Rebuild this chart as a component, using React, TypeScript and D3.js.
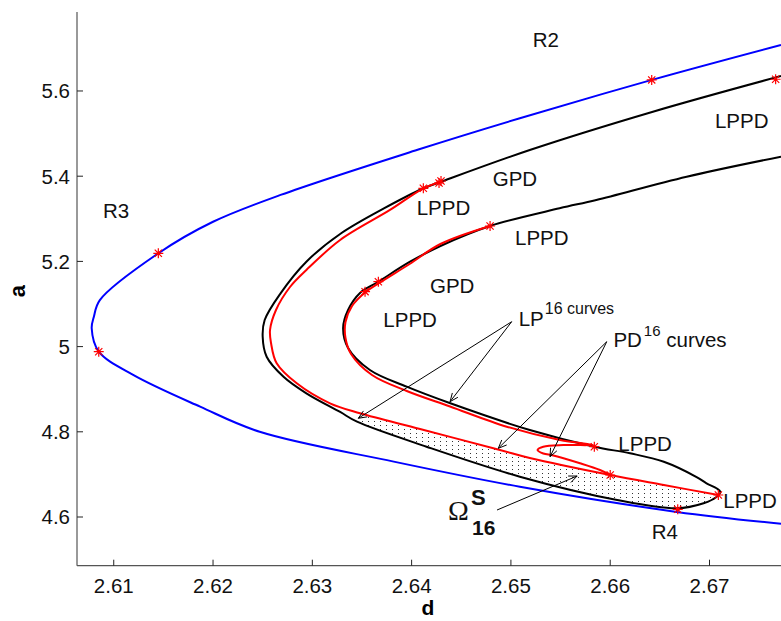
import React from 'react'
import * as d3 from 'd3'

type Pt = [number, number]

// axis ticks
const xTicks = [2.61, 2.62, 2.63, 2.64, 2.65, 2.66, 2.67]
const yTicks = [4.6, 4.8, 5, 5.2, 5.4, 5.6]

// blue boundary curve (d, a)
const blueCurve: Pt[] = [
  [2.6772, 5.708], [2.6642, 5.626], [2.6509, 5.536], [2.6406, 5.462], [2.6268, 5.356],
  [2.62, 5.293], [2.6145, 5.219], [2.6086, 5.109], [2.608, 5.07],
  [2.60778, 5.043], [2.6085, 4.988], [2.612, 4.933], [2.6187, 4.859], [2.6247, 4.8],
  [2.6382, 4.73], [2.6509, 4.671], [2.6667, 4.612], [2.6772, 4.584],
]

// black folded curve, one continuous branch
const blackCurve: Pt[] = [
  [2.6772, 5.6352], [2.6643, 5.5514], [2.6519, 5.4615], [2.6429, 5.3864], [2.6412, 5.3716],
  [2.6373, 5.3254], [2.6328, 5.2643], [2.6294, 5.1993], [2.6268, 5.1251], [2.6252, 5.0624],
  [2.625, 5.0232], [2.6254, 4.9763], [2.6271, 4.9293], [2.6294, 4.8904], [2.6328, 4.8465],
  [2.6345, 4.8237], [2.6415, 4.765], [2.6509, 4.6946], [2.6607, 4.6399], [2.6667, 4.6204],
  [2.6694, 4.6322], [2.6707, 4.6469], [2.6711, 4.6587], [2.6707, 4.6674], [2.6697, 4.6791],
  [2.6687, 4.6939], [2.6654, 4.7298], [2.662, 4.7495], [2.6584, 4.765], [2.6519, 4.8042],
  [2.6439, 4.8669], [2.6395, 4.9059], [2.6358, 4.9451], [2.6336, 4.9967], [2.6331, 5.0437],
  [2.6336, 5.0859], [2.6348, 5.1258], [2.6366, 5.1516], [2.6398, 5.1986], [2.6429, 5.2362],
  [2.6479, 5.2831], [2.6549, 5.3246], [2.6586, 5.3441], [2.6677, 5.3988], [2.6772, 5.4458],
]

// red curves
const redOuter: Pt[] = [
  [2.6429, 5.3864], [2.6412, 5.3716], [2.63782, 5.3207], [2.6328, 5.2502], [2.6294, 5.1798],
  [2.62775, 5.1399], [2.62634, 5.0859], [2.62574, 5.039], [2.62584, 5.0085], [2.62641, 4.9608],
  [2.62843, 4.9138], [2.63178, 4.8669], [2.6348, 4.8434], [2.64085, 4.8066], [2.6489, 4.7573],
  [2.6519, 4.7385], [2.66, 4.6986], [2.6654, 4.6751], [2.6709, 4.6516],
]
const redInner: Pt[] = [
  [2.6479, 5.2831], [2.6429, 5.2408], [2.6398, 5.1939], [2.63665, 5.1481], [2.63531, 5.127],
  [2.634, 5.0953], [2.63334, 5.0577], [2.63334, 5.0202], [2.6339, 4.9826], [2.63601, 4.9333],
  [2.63951, 4.8958], [2.64387, 4.8594], [2.64958, 4.812], [2.65494, 4.7808], [2.6583, 4.769],
  [2.65528, 4.769], [2.65326, 4.765], [2.65268, 4.7573], [2.65326, 4.7491], [2.65427, 4.7444],
  [2.65696, 4.7261], [2.65897, 4.7103], [2.66, 4.6986],
]

// special points (red stars)
const stars: Pt[] = [
  [2.60849, 4.988], [2.61449, 5.219], [2.66418, 5.626], [2.67666, 5.6275],
  [2.64118, 5.3716], [2.64276, 5.384], [2.64296, 5.3887], [2.6479, 5.2831],
  [2.63665, 5.1523], [2.63531, 5.1289], [2.6584, 4.765], [2.66, 4.6986],
  [2.67089, 4.6516], [2.6668, 4.618],
]

// region labels: [d, a, text]
const labels: [number, number, string][] = [
  [2.6522, 5.7026, 'R2'], [2.60892, 5.3019, 'R3'], [2.67055, 5.5138, 'LPPD'],
  [2.64817, 5.377, 'GPD'], [2.64051, 5.3089, 'LPPD'], [2.65041, 5.2385, 'LPPD'],
  [2.64185, 5.1251, 'GPD'], [2.63715, 5.0467, 'LPPD'], [2.66082, 4.7561, 'LPPD'],
  [2.67139, 4.6204, 'LPPD'], [2.66418, 4.5477, 'R4'],
]

// annotation arrows: [from, to]
const arrows: [Pt, Pt][] = [
  [[2.65008, 5.0585], [2.63463, 4.8317]],
  [[2.65008, 5.0585], [2.64387, 4.8707]],
  [[2.65965, 5.0115], [2.64873, 4.7613]],
  [[2.65965, 5.0115], [2.65394, 4.7415]],
  [[2.6486, 4.6164], [2.65667, 4.6962]],
]

const W = 781
const H = 621
const left = 77
const top = 12
const bottom = 565.7
const font = 'Liberation Sans, Arial, Helvetica, sans-serif'
const fs = 20.5

export default function App() {
  const x = d3.scaleLinear().domain([2.6063, 2.6772]).range([left, W])
  const y = d3.scaleLinear().domain([4.4857, 5.7854]).range([bottom, top])

  const line = d3.line<Pt>().x(p => x(p[0])).y(p => y(p[1])).curve(d3.curveCatmullRom.alpha(0.5))
  const poly = d3.line<Pt>().x(p => x(p[0])).y(p => y(p[1])).curve(d3.curveLinearClosed)

  // stippled stable region between the lower red branch and the lower black branch
  const region = redOuter.slice(12).concat(blackCurve.slice(15, 23).reverse())

  const arrowPath = (a: Pt, b: Pt) => {
    const x1 = x(a[0]), y1 = y(a[1]), x2 = x(b[0]), y2 = y(b[1])
    const ang = Math.atan2(y2 - y1, x2 - x1)
    const L = 9, s = 0.4
    const hx1 = x2 - L * Math.cos(ang - s), hy1 = y2 - L * Math.sin(ang - s)
    const hx2 = x2 - L * Math.cos(ang + s), hy2 = y2 - L * Math.sin(ang + s)
    return `M${x1},${y1}L${x2},${y2}M${hx1},${hy1}L${x2},${y2}L${hx2},${hy2}`
  }

  return (
    <svg width={W} height={H} style={{ position: 'absolute', left: 0, top: 0, background: '#fff' }}
      fontFamily={font}>
      <defs>
        <clipPath id="plot">
          <rect x={left} y={top} width={W - left} height={bottom - top} />
        </clipPath>
        <pattern id="dots" width={6} height={4} patternUnits="userSpaceOnUse">
          <rect x={2} y={1} width={1} height={1} fill="#333" />
        </pattern>
      </defs>

      <g clipPath="url(#plot)">
        <path d={poly(region) ?? ''} fill="url(#dots)" stroke="none" />
        <path d={line(blueCurve) ?? ''} fill="none" stroke="#0000ff" strokeWidth={2} />
        <path d={line(blackCurve) ?? ''} fill="none" stroke="#000" strokeWidth={2} />
        <path d={line(redOuter) ?? ''} fill="none" stroke="#ff0000" strokeWidth={2} />
        <path d={line(redInner) ?? ''} fill="none" stroke="#ff0000" strokeWidth={2} />
        {stars.map((p, i) => (
          <path key={i} transform={`translate(${x(p[0])},${y(p[1])})`}
            d="M-5,0H5M0,-5V5M-3.6,-3.6L3.6,3.6M-3.6,3.6L3.6,-3.6"
            stroke="#ff0000" strokeWidth={1.2} fill="none" />
        ))}
      </g>

      {arrows.map((a, i) => (
        <path key={i} d={arrowPath(a[0], a[1])} fill="none" stroke="#000" strokeWidth={1} />
      ))}

      {/* axes */}
      <line x1={left} x2={left} y1={top} y2={bottom} stroke="#555" strokeWidth={1.2} />
      <line x1={left} x2={W} y1={bottom} y2={bottom} stroke="#555" strokeWidth={1.2} />
      {xTicks.map(t => (
        <g key={t}>
          <line x1={x(t)} x2={x(t)} y1={bottom} y2={bottom - 6} stroke="#222" />
          <text x={x(t)} y={592.7} textAnchor="middle" fontSize={fs} fill="#111">{t}</text>
        </g>
      ))}
      {yTicks.map(t => (
        <g key={t}>
          <line x1={left} x2={left + 6} y1={y(t)} y2={y(t)} stroke="#222" />
          <text x={70} y={y(t)} dy="0.36em" textAnchor="end" fontSize={fs} fill="#111">{t}</text>
        </g>
      ))}
      <text x={428} y={615} textAnchor="middle" fontSize={21} fontWeight="bold">d</text>
      <text transform="translate(25,291) rotate(-90)" textAnchor="middle" fontSize={22} fontWeight="bold">a</text>

      {labels.map((l, i) => (
        <text key={i} x={x(l[0])} y={y(l[1])} fontSize={fs} fill="#111">{l[2]}</text>
      ))}

      <text x={x(2.65078)} y={y(5.0483)} fontSize={fs} fill="#111">
        LP<tspan dy={-11.7} dx={1} fontSize={16}>16 curves</tspan>
      </text>
      <text x={x(2.66032)} y={y(4.9988)} fontSize={fs} fill="#111">
        PD<tspan dy={-11.6} dx={2} fontSize={15}>16</tspan>
        <tspan dy={11.6} dx={0}> curves</tspan>
      </text>

      <text x={x(2.64367)} y={y(4.593)} fontSize={28} fontFamily="Liberation Serif, Times New Roman, serif" fill="#111">Ω</text>
      <text x={x(2.64598)} y={y(4.6282)} fontSize={22} fontWeight="bold" fill="#111">S</text>
      <text x={x(2.64608)} y={y(4.5577)} fontSize={21} fontWeight="bold" fill="#111">16</text>
    </svg>
  )
}
